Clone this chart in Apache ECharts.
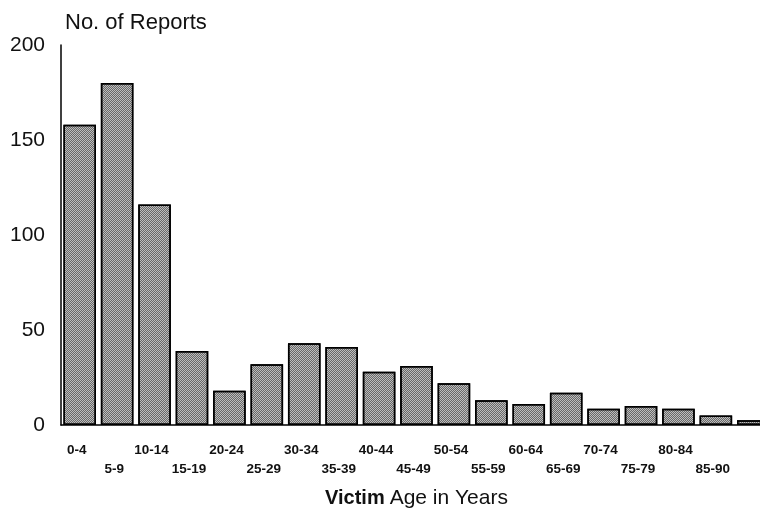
<!DOCTYPE html>
<html>
<head>
<meta charset="utf-8">
<script src="https://cdn.jsdelivr.net/npm/echarts@6/dist/echarts.min.js"></script>
<style>html,body{margin:0;padding:0;background:#fff}#c{width:760px;height:509px}</style>
</head>
<body>
<div id="c"></div>
<script>
var categories = ['0-4','5-9','10-14','15-19','20-24','25-29','30-34','35-39','40-44','45-49','50-54','55-59','60-64','65-69','70-74','75-79','80-84','85-90',''];
var reports = [158, 180, 116, 39, 18, 32, 43, 41, 28, 31, 22, 13, 11, 17, 8.5, 10, 8.5, 5, 2.5];
var yTicks = [0, 50, 100, 150, 200];

var chart = echarts.init(document.getElementById('c'), null, {renderer: 'canvas'});
var FONT = 'Liberation Sans, Arial, Helvetica, sans-serif';
chart.setOption({
  animation: false,
  backgroundColor: '#fff',
  title: [
    {text: 'No. of Reports', left: 60, top: 7, textStyle: {fontFamily: FONT, fontSize: 22, fontWeight: 'normal', color: '#111'}},
    {text: '{b|Victim} {n|Age in Years}', left: 320, top: 483,
     textStyle: {rich: {
       b: {fontFamily: FONT, fontSize: 20, fontWeight: 'bold', color: '#111'},
       n: {fontFamily: FONT, fontSize: 21, fontWeight: 'normal', color: '#111'}
     }}}
  ],
  grid: {left: 61, top: 45, height: 380, width: 711, containLabel: false, outerBoundsMode: 'none'},
  xAxis: {
    type: 'category',
    data: categories,
    axisLine: {show: true, lineStyle: {color: '#000', width: 1.5}},
    axisTick: {show: false},
    axisLabel: {
      interval: 0, margin: 16, fontFamily: FONT, fontSize: 13.5, fontWeight: 'bold', color: '#111',
      lineHeight: 19, padding: [0, 6, 0, 0],
      formatter: function (v, i) { return i % 2 === 1 ? '\n' + v : v; }
    }
  },
  yAxis: {
    type: 'value', min: yTicks[0], max: yTicks[yTicks.length - 1], interval: 50,
    axisLine: {show: true, lineStyle: {color: '#000', width: 1.5}},
    axisTick: {show: false},
    splitLine: {show: false},
    axisLabel: {margin: 16, fontFamily: FONT, fontSize: 21, color: '#111'}
  },
  series: [{
    type: 'bar',
    data: reports,
    barCategoryGap: '13%',
    itemStyle: {
      color: '#bdbdbd',
      borderColor: '#000',
      borderWidth: 1.5,
      decal: {
        symbol: 'rect',
        symbolSize: 1,
        color: 'rgba(0,0,0,0.45)',
        dashArrayX: [[1, 1], [0, 1, 1, 0]],
        dashArrayY: [1, 0]
      }
    }
  }]
});
</script>
</body>
</html>
